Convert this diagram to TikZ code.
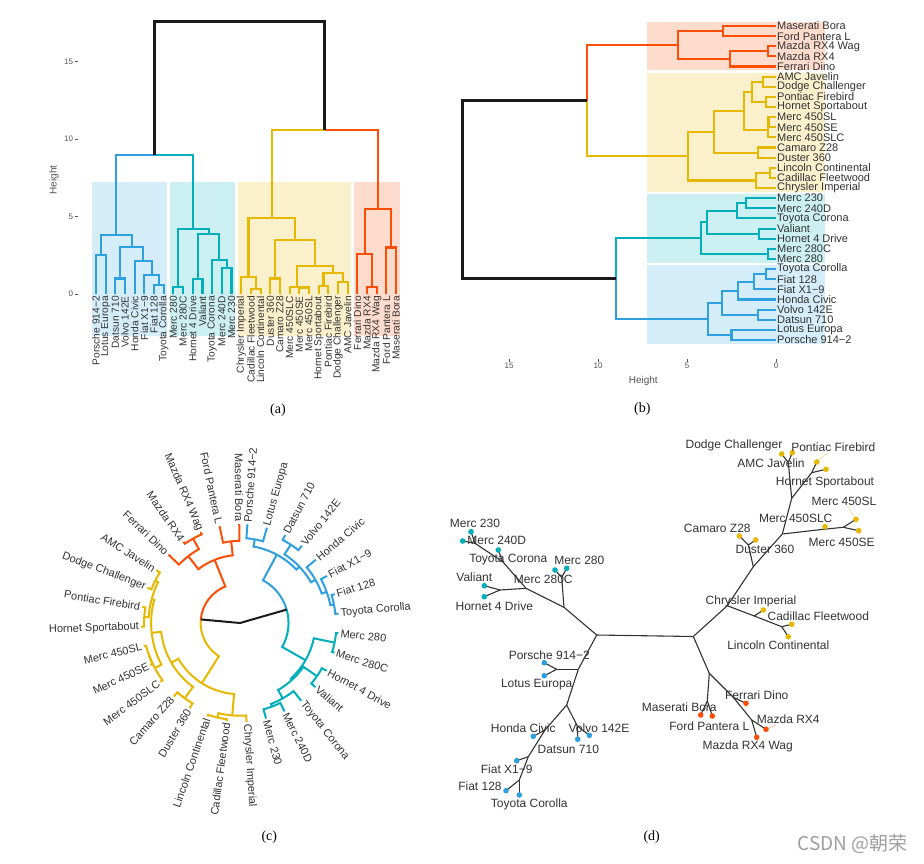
\documentclass[tikz,border=0pt]{standalone}
\usepackage{fontspec}
\setmainfont{Liberation Serif}
\newfontfamily\labfont{Liberation Sans}
\newfontfamily\cjkfont{Noto Sans CJK SC}
\usetikzlibrary{calc}

\definecolor{cb}{HTML}{2E9FDF}
\definecolor{ct}{HTML}{00AFBB}
\definecolor{cy}{HTML}{E7B800}
\definecolor{cr}{HTML}{FC4E07}
\definecolor{ck}{HTML}{1A1A1A}
\definecolor{txt}{HTML}{333333}
\definecolor{axisgray}{HTML}{555555}

\tikzset{
  branch/.style={line width=2.1pt},
  rootline/.style={line width=2.7pt, ck},
  twig/.style={line width=1.1pt, txt},
  leaf/.style={font=\labfont\fontsize{#1}{#1}\selectfont, text=txt, inner sep=1pt},
  ticklab/.style={font=\labfont\fontsize{8}{8}\selectfont, text=axisgray, inner sep=1pt},
  axtitle/.style={font=\labfont\fontsize{10}{10}\selectfont, text=axisgray},
  caption/.style={font=\fontsize{14}{14}\selectfont},
  lead/.style={line width=.4pt, opacity=.6}
}

% tree of mtcars: colour/parent x/parent height/child x/child height
\def\tree{cb/7.078/8.97/3.094/3.8,ct/7.078/8.97/11.06/4.2,
cb/3.094/3.8/1.5/2.5,cb/3.094/3.8/4.688/3.05,
cb/1.5/2.5/1/0,cb/1.5/2.5/2/0,
cb/4.688/3.05/3.5/1.0,cb/4.688/3.05/5.875/2.15,
cb/3.5/1/3/0,cb/3.5/1/4/0,
cb/5.875/2.15/5/0,cb/5.875/2.15/6.75/1.23,
cb/6.75/1.23/6/0,cb/6.75/1.23/7.5/0.58,
cb/7.5/0.58/7/0,cb/7.5/0.58/8/0,
ct/11.06/4.2/9.5/0.43,ct/11.06/4.2/12.63/3.9,
ct/9.5/0.43/9/0,ct/9.5/0.43/10/0,
ct/12.63/3.9/11.5/0.97,ct/12.63/3.9/13.75/2.2,
ct/11.5/0.97/11/0,ct/11.5/0.97/12/0,
ct/13.75/2.2/13/0,ct/13.75/2.2/14.5/1.7,
ct/14.5/1.7/14/0,ct/14.5/1.7/15/0,
cy/24.64/10.6/19.16/4.93,cr/24.64/10.6/30.13/5.5,
cy/19.16/4.93/16.75/1.12,cy/19.16/4.93/21.56/3.5,
cy/16.75/1.12/16/0,cy/16.75/1.12/17.5/0.32,
cy/17.5/0.32/17/0,cy/17.5/0.32/18/0,
cy/21.56/3.5/19.5/1.0,cy/21.56/3.5/23.63/1.8,
cy/19.5/1/19/0,cy/19.5/1/20/0,
cy/23.63/1.8/21.75/0.47,cy/23.63/1.8/25.5/1.33,
cy/21.75/0.47/21/0,cy/21.75/0.47/22.5/0.42,
cy/22.5/0.42/22/0,cy/22.5/0.42/23/0,
cy/25.5/1.33/24.5/0.54,cy/25.5/1.33/26.5/0.75,
cy/24.5/0.54/24/0,cy/24.5/0.54/25/0,
cy/26.5/0.75/26/0,cy/26.5/0.75/27/0,
cr/30.13/5.5/28.75/2.58,cr/30.13/5.5/31.5/3.0,
cr/28.75/2.58/28/0,cr/28.75/2.58/29.5/0.43,
cr/29.5/0.43/29/0,cr/29.5/0.43/30/0,
cr/31.5/3/31/0,cr/31.5/3/32/0}

\def\cars{Porsche 914−2,Lotus Europa,Datsun 710,Volvo 142E,Honda Civic,Fiat X1−9,Fiat 128,Toyota Corolla,Merc 280,Merc 280C,Hornet 4 Drive,Valiant,Toyota Corona,Merc 240D,Merc 230,Chrysler Imperial,Cadillac Fleetwood,Lincoln Continental,Duster 360,Camaro Z28,Merc 450SLC,Merc 450SE,Merc 450SL,Hornet Sportabout,Pontiac Firebird,Dodge Challenger,AMC Javelin,Ferrari Dino,Mazda RX4,Mazda RX4 Wag,Ford Pantera L,Maserati Bora}

\begin{document}
\begin{tikzpicture}[x=1pt,y=-1pt]
\fill[white] (0,0) rectangle (924,863);

% (a) vertical dendrogram
\foreach \c/\l/\r in {cb/1/8,ct/9/15,cy/16/27,cr/28/32}
  \fill[fill=\c!20] ({86.32+9.68*\l-3.6},182) rectangle ({86.32+9.68*\r+3.6},336);
\foreach \c/\xp/\hp/\xc/\hc in \tree
  \draw[branch,color=\c] ({86.32+9.68*\xp},{294-15.5*\hp}) -| ({86.32+9.68*\xc},{294-15.5*\hc});
\draw[rootline] (154.84,155.0) |- (324.84,21.2) -- (324.84,129.7);
\foreach \v in {0,5,10,15}
  \draw[axisgray,line width=.8pt] (74.5,{294-15.5*\v}) node[ticklab,anchor=east] {\v} -- ++(3,0);
\node[axtitle,rotate=90] (ha) at (54,180) {Height};
\foreach \n [count=\k] in \cars
  \node[leaf=10.2,rotate=90,anchor=east] (a\k) at ({86.32+9.68*\k},295) {\n};
\node[caption] (capa) at (278,410) {(a)};

% (b) horizontal dendrogram
\foreach \c/\l/\r in {cb/1/8,ct/9/15,cy/16/27,cr/28/32}
  \fill[fill=\c!20] (647,{350.13-10.13*\r-3.7}) rectangle (825,{350.13-10.13*\l+3.7});
\foreach \c/\xp/\hp/\xc/\hc in \tree
  \draw[branch,color=\c] ({776-17.8*\hp},{350.13-10.13*\xp}) |- ({776-17.8*\hc},{350.13-10.13*\xc});
\draw[rootline] (616.3,278.4) -| (462.7,100.5) -- (587.3,100.5);
\foreach \v in {0,5,10,15}
  \draw[axisgray,line width=.8pt] ({776-17.8*\v},358.5) -- ++(0,3) node[ticklab,anchor=north] {\v};
\node[axtitle] (hb) at (643.3,381) {Height};
\foreach \n [count=\k] in \cars
  \node[leaf=11,anchor=west] (b\k) at (776,{350.13-10.13*\k}) {\n};
\node[caption] (capb) at (642.3,409.3) {(b)};

% (c) circular dendrogram
\begin{scope}[shift={(240,623)},yscale=-1]
\foreach \c/\xp/\hp/\xc/\hc in \tree
  \draw[line width=2pt,color=\c] ({97.16-11.46*\xp}:{99-5.625*\hp})
    arc[start angle={97.16-11.46*\xp}, end angle={97.16-11.46*\xc}, radius={99-5.625*\hp}]
    -- ({97.16-11.46*\xc}:{99-5.625*\hc});
\draw[ck,line width=2pt] ({97.16-11.46*7.078}:{99-5.625*8.97}) -- (0,0)
  -- ({97.16-11.46*24.64}:{99-5.625*10.6});
\foreach \n [count=\k, evaluate=\k as \t using 97.16-11.46*\k] in \cars {
  \ifdim \t pt>-90pt
    \node[leaf=11,rotate=\t,anchor=west] (c\k) at (\t:100) {\n};
  \else
    \node[leaf=11,rotate=\t+180,anchor=east] (c\k) at (\t:100) {\n};
  \fi
}
\end{scope}
\node[caption] (capc) at (269.3,836.7) {(c)};

% (d) unrooted tree
\path
  (596.7,635) coordinate (dBT)   (693.3,636.5) coordinate (dYR)
  (564,607.3) coordinate (dT)    (561.7,577.3) coordinate (dM28)
  (526,588.3) coordinate (dHVTM) (500,590) coordinate (dHV)
  (502.7,561.7) coordinate (dTM) (475,543.3) coordinate (dM2)
  (578.3,669.3) coordinate (dB)  (556.7,669.3) coordinate (dPL)
  (566.7,705) coordinate (dDVH)  (577.3,726) coordinate (dDV)
  (545,730) coordinate (dHFFC)   (528.3,756.7) coordinate (dFFC)
  (519.3,780) coordinate (dFC)
  (727.3,605.7) coordinate (dY)  (754.3,616) coordinate (dCCL)
  (781.7,626.7) coordinate (dCL) (753.3,566.7) coordinate (dDCMH)
  (748.3,545) coordinate (dDC)   (782.3,534) coordinate (dMH)
  (823.3,529.3) coordinate (dM45b) (843.3,527.3) coordinate (dM45)
  (791.7,498.3) coordinate (dHPDA) (811.7,472.7) coordinate (dHP)
  (788.3,462.5) coordinate (dDA)
  (709.3,673.3) coordinate (dR)  (707.3,701) coordinate (dFM)
  (733.3,697.3) coordinate (dFRR) (751.7,720) coordinate (dRR);
\path
  (544.3,662.7) coordinate (d1)  (544.3,675.7) coordinate (d2)
  (577.7,739.3) coordinate (d3)  (589.3,735.3) coordinate (d4)
  (533.3,736.3) coordinate (d5)  (516.7,760.7) coordinate (d6)
  (506,790.7) coordinate (d7)    (519.3,795) coordinate (d8)
  (566.7,568.3) coordinate (d9)  (555,570) coordinate (d10)
  (484.3,596.7) coordinate (d11) (484.3,585.7) coordinate (d12)
  (498.3,550) coordinate (d13)   (462.7,541) coordinate (d14)
  (471,531.7) coordinate (d15)
  (763.3,610) coordinate (d16)   (791.7,624.3) coordinate (d17)
  (788.3,636.7) coordinate (d18) (755.7,540) coordinate (d19)
  (739.3,536) coordinate (d20)   (825,526.7) coordinate (d21)
  (858.7,530.7) coordinate (d22) (856,519.3) coordinate (d23)
  (826,469.3) coordinate (d24)   (816.7,462) coordinate (d25)
  (781.7,454) coordinate (d26)   (792.3,452.7) coordinate (d27)
  (746,703.3) coordinate (d28)   (766,729.3) coordinate (d29)
  (756.7,737.3) coordinate (d30) (712.3,716) coordinate (d31)
  (700.7,715) coordinate (d32);

\foreach \a/\b in {dBT/dYR,dBT/dT,dT/dM28,dM28/d9,dM28/d10,dT/dHVTM,dHVTM/dHV,dHV/d11,dHV/d12,
  dHVTM/dTM,dTM/d13,dTM/dM2,dM2/d14,dM2/d15,
  dBT/dB,dB/dPL,dPL/d1,dPL/d2,dB/dDVH,dDVH/dDV,dDV/d3,dDV/d4,dDVH/dHFFC,dHFFC/d5,
  dHFFC/dFFC,dFFC/d6,dFFC/dFC,dFC/d7,dFC/d8,
  dYR/dY,dY/dCCL,dCCL/d16,dCCL/dCL,dCL/d17,dCL/d18,dY/dDCMH,dDCMH/dDC,dDC/d19,dDC/d20,
  dDCMH/dMH,dMH/dM45b,dM45b/d21,dM45b/dM45,dM45/d22,dM45/d23,dMH/dHPDA,dHPDA/dHP,
  dHP/d24,dHP/d25,dHPDA/dDA,dDA/d26,dDA/d27,
  dYR/dR,dR/dFM,dFM/d31,dFM/d32,dR/dFRR,dFRR/d28,dFRR/dRR,dRR/d29,dRR/d30}
  \draw[twig] (\a) -- (\b);

\foreach \c/\l/\r in {cb/1/8,ct/9/15,cy/16/27,cr/28/32}
  \foreach \k in {\l,...,\r}
    \fill[fill=\c] (d\k) circle (2.8);

\foreach \k/\x/\y/\n in {1/549.3/655/Porsche 914−2,2/536.7/685/Lotus Europa,
  3/568.3/749/Datsun 710,4/599/728.3/Volvo 142E,5/523.3/728.3/Honda Civic,
  6/506.7/769.3/Fiat X1−9,7/480/785.7/Fiat 128,8/529.3/804/Toyota Corolla,
  9/579.3/560.7/Merc 280,10/543.3/579.3/Merc 280C,11/494.3/606/Hornet 4 Drive,
  12/474.3/577.7/Valiant,13/508.3/559.3/Toyota Corona,14/496.7/540.7/Merc 240D,
  15/475/523.3/Merc 230,16/751/601/Chrysler Imperial,17/818.3/616.7/Cadillac Fleetwood,
  18/778.3/645/Lincoln Continental,19/765/549/Duster 360,20/717.3/528.7/Camaro Z28,
  21/795.7/518.3/Merc 450SLC,22/841.7/542.3/Merc 450SE,23/844/501/Merc 450SL,
  24/825/482.7/Hornet Sportabout,25/833.3/447.3/Pontiac Firebird,
  26/734/445/Dodge Challenger,27/771/463.3/AMC Javelin,28/756.7/695/Ferrari Dino,
  29/788.3/719.3/Mazda RX4,30/747.7/746.7/Mazda RX4 Wag,31/709.3/725.7/Ford Pantera L,
  32/679.3/707.3/Maserati Bora}
  \node[leaf=12] (l\k) at (\x,\y) {\n};

\draw[lead,cy] (l25) -- (d25);
\draw[lead,cy] (l23) -- (d23);
\draw[lead,cr] (l29) -- (d29);
\node[caption] (capd) at (651.7,836.7) {(d)};

\node[font=\cjkfont\fontsize{19}{19}\selectfont, text=black!38] (mark) at (852.5,844) {CSDN @朝荣};
\end{tikzpicture}
\end{document}
